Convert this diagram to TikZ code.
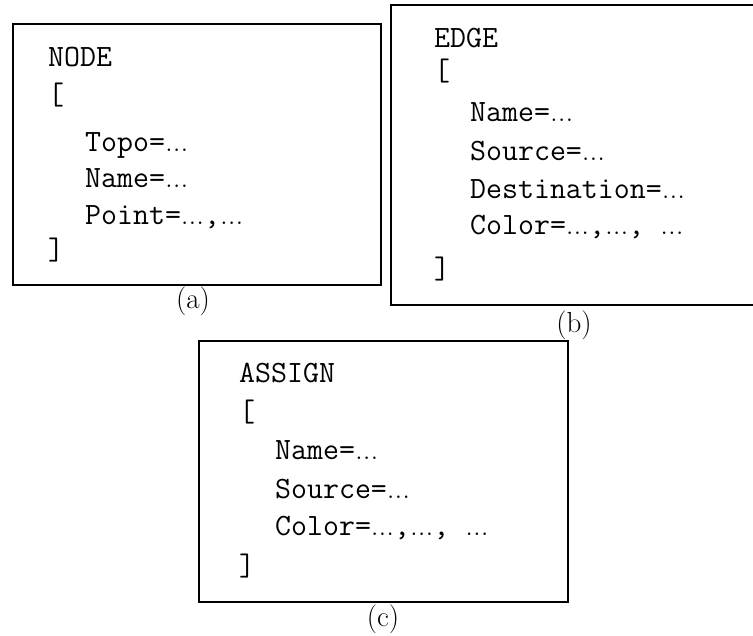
\documentclass[tikz,border=0pt]{standalone}
\newcommand\ellip{\textrm{...}}
\begin{document}
\begin{tikzpicture}[x=1pt,y=-1pt,
  frame/.style={draw=black, line width=1.6pt},
  code/.style={anchor=base west, inner sep=0pt, font=\fontsize{31}{37}\selectfont\ttfamily},
  caption/.style={anchor=base, inner sep=0pt, font=\fontsize{29}{34}\selectfont\rmfamily}]
\useasboundingbox (0,0) rectangle (753,636);

% the three record frames
\draw[frame] (13,24) rectangle (381,285);
\draw[frame] (391,5) rectangle (765,305);
\draw[frame] (199,341) rectangle (568,602);

% (a) NODE record
\node[code] (nodehead) at (48,67) {NODE};
\node[code] (nodeopen) at (48,105) {[};
\node[code] (nodetopo) at (85,152) {Topo=\ellip};
\node[code] (nodename) at (85,188) {Name=\ellip};
\node[code] (nodepoint) at (85,225) {Point=\ellip,\ellip};
\node[code] (nodeclose) at (48,260) {]};
\node[caption] (capa) at (193,309) {(a)};

% (b) EDGE record
\node[code] (edgehead) at (434,48) {EDGE};
\node[code] (edgeopen) at (434,81) {[};
\node[code] (edgename) at (470,122) {Name=\ellip};
\node[code] (edgesrc) at (470,161) {Source=\ellip};
\node[code] (edgedst) at (470,199) {Destination=\ellip};
\node[code] (edgecol) at (470,235) {Color=\ellip,\ellip, \ellip};
\node[code] (edgeclose) at (434,279) {]};
\node[caption] (capb) at (574,333) {(b)};

% (c) ASSIGN record
\node[code] (ashead) at (239,383) {ASSIGN};
\node[code] (asopen) at (239,421) {[};
\node[code] (asname) at (275,460) {Name=\ellip};
\node[code] (assrc) at (275,498) {Source=\ellip};
\node[code] (ascol) at (275,535) {Color=\ellip,\ellip, \ellip};
\node[code] (asclose) at (239,575) {]};
\node[caption] (capc) at (383,626) {(c)};
\end{tikzpicture}
\end{document}
